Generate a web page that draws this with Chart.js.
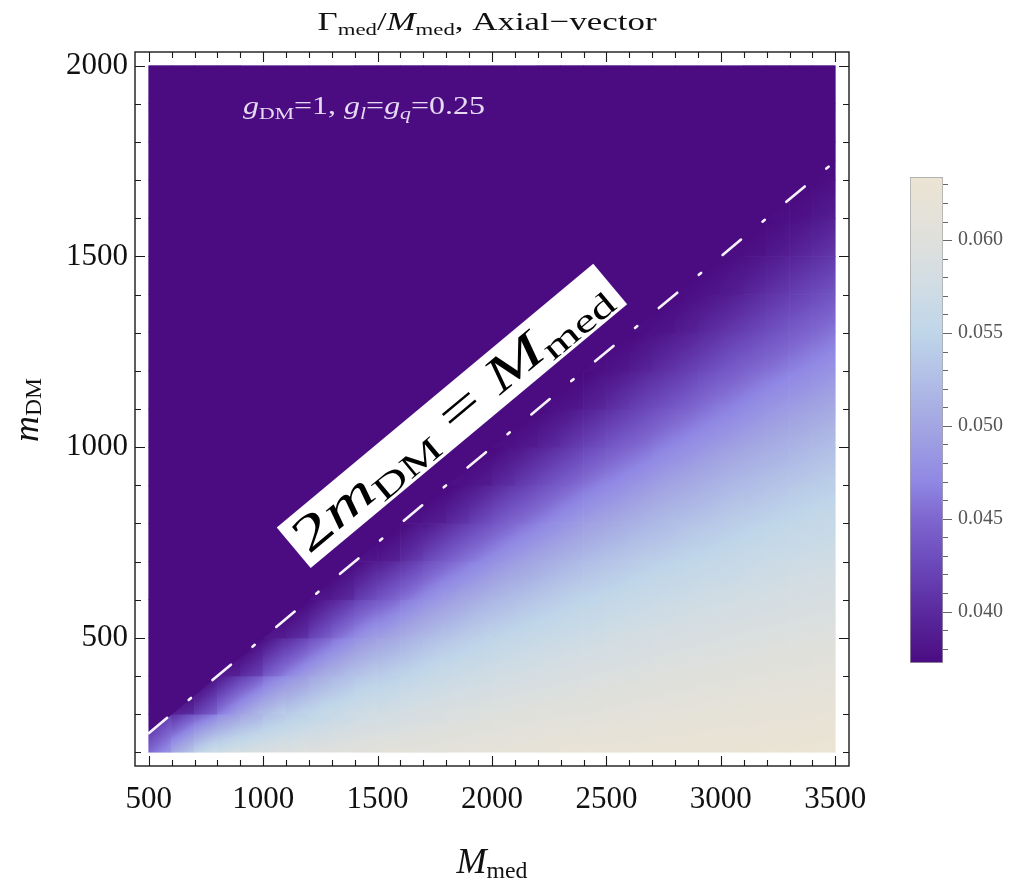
<!DOCTYPE html>
<html>
<head>
<meta charset="utf-8">
<script src="https://cdn.jsdelivr.net/npm/chart.js@4.4.1/dist/chart.umd.min.js"></script>
<style>
  html, body { margin: 0; padding: 0; background: #fff; }
  #wrap { position: relative; width: 1014px; height: 879px; }
  #main { position: absolute; left: 0; top: 0; }
  #cbar { position: absolute; left: 880px; top: 150px; }
</style>
</head>
<body>
<div id="wrap">
  <canvas id="main" width="1014" height="879"></canvas>
  <canvas id="cbar" width="134" height="540"></canvas>
</div>
<script>
/* ---------- data ---------- */
// cell centres: mediator mass (columns) and DM mass (rows, top to bottom)
const massMed = [550, 650, 750, 850, 950, 1050, 1150, 1250, 1350, 1450, 1550, 1650, 1750, 1850, 1950,
                 2050, 2150, 2250, 2350, 2450, 2550, 2650, 2750, 2850, 2950, 3050, 3150, 3250, 3350, 3450];
const massDM = [1950, 1850, 1750, 1650, 1550, 1450, 1350, 1250, 1150, 1050, 950, 850, 750, 650, 550, 450, 350, 250];
const cellSize = 100;

// Gamma_med / M_med per cell, in units of 1e-3
const widthRatio = [
  [37.2,37.2,37.2,37.2,37.2,37.2,37.2,37.2,37.2,37.2,37.2,37.2,37.2,37.2,37.2,37.2,37.2,37.2,37.2,37.2,37.2,37.2,37.2,37.2,37.2,37.2,37.2,37.2,37.2,37.2],
  [37.2,37.2,37.2,37.2,37.2,37.2,37.2,37.2,37.2,37.2,37.2,37.2,37.2,37.2,37.2,37.2,37.2,37.2,37.2,37.2,37.2,37.2,37.2,37.2,37.2,37.2,37.2,37.2,37.2,37.2],
  [37.2,37.2,37.2,37.2,37.2,37.2,37.2,37.2,37.2,37.2,37.2,37.2,37.2,37.2,37.2,37.2,37.2,37.2,37.2,37.2,37.2,37.2,37.2,37.2,37.2,37.2,37.2,37.2,37.2,37.2],
  [37.2,37.2,37.2,37.2,37.2,37.2,37.2,37.2,37.2,37.2,37.2,37.2,37.2,37.2,37.2,37.2,37.2,37.2,37.2,37.2,37.2,37.2,37.2,37.2,37.2,37.2,37.2,37.2,37.3,37.9],
  [37.2,37.2,37.2,37.2,37.2,37.2,37.2,37.2,37.2,37.2,37.2,37.2,37.2,37.2,37.2,37.2,37.2,37.2,37.2,37.2,37.2,37.2,37.2,37.2,37.2,37.2,37.3,37.9,38.7,39.7],
  [37.2,37.2,37.2,37.2,37.2,37.2,37.2,37.2,37.2,37.2,37.2,37.2,37.2,37.2,37.2,37.2,37.2,37.2,37.2,37.2,37.2,37.2,37.2,37.2,37.4,38.0,38.9,39.9,40.9,41.9],
  [37.2,37.2,37.2,37.2,37.2,37.2,37.2,37.2,37.2,37.2,37.2,37.2,37.2,37.2,37.2,37.2,37.2,37.2,37.2,37.2,37.2,37.2,37.4,38.1,39.1,40.1,41.2,42.3,43.3,44.3],
  [37.2,37.2,37.2,37.2,37.2,37.2,37.2,37.2,37.2,37.2,37.2,37.2,37.2,37.2,37.2,37.2,37.2,37.2,37.2,37.2,37.4,38.2,39.3,40.4,41.6,42.8,43.8,44.8,45.8,46.7],
  [37.2,37.2,37.2,37.2,37.2,37.2,37.2,37.2,37.2,37.2,37.2,37.2,37.2,37.2,37.2,37.2,37.2,37.2,37.4,38.3,39.5,40.8,42.0,43.2,44.5,45.5,46.5,47.4,48.2,49.0],
  [37.2,37.2,37.2,37.2,37.2,37.2,37.2,37.2,37.2,37.2,37.2,37.2,37.2,37.2,37.2,37.2,37.5,38.5,39.8,41.2,42.6,43.8,45.1,46.2,47.2,48.1,49.0,49.8,50.5,51.2],
  [37.2,37.2,37.2,37.2,37.2,37.2,37.2,37.2,37.2,37.2,37.2,37.2,37.2,37.2,37.5,38.7,40.2,41.7,43.2,44.7,45.9,47.0,48.1,49.0,49.9,50.7,51.4,52.0,52.6,53.2],
  [37.2,37.2,37.2,37.2,37.2,37.2,37.2,37.2,37.2,37.2,37.2,37.2,37.6,38.9,40.6,42.4,43.9,45.4,46.8,48.0,49.0,50.0,50.9,51.6,52.3,53.0,53.5,54.1,54.6,55.0],
  [37.2,37.2,37.2,37.2,37.2,37.2,37.2,37.2,37.2,37.2,37.6,39.3,41.2,43.1,44.8,46.4,47.8,49.0,50.1,51.1,51.9,52.7,53.3,54.0,54.5,55.0,55.5,55.9,56.3,56.6],
  [37.2,37.2,37.2,37.2,37.2,37.2,37.2,37.2,38.0,40.1,42.0,44.0,46.0,47.6,49.0,50.3,51.3,52.3,53.2,53.9,54.5,55.1,55.6,56.0,56.5,56.8,57.2,57.5,57.8,58.0],
  [37.2,37.2,37.2,37.2,37.2,37.2,38.1,40.7,43.3,45.7,47.3,49.0,50.5,51.7,52.8,53.6,54.4,55.1,55.7,56.2,56.8,57.2,57.5,57.8,58.1,58.4,58.6,58.8,59.0,59.2],
  [37.2,37.2,37.2,37.2,38.7,42.0,44.7,47.3,49.4,51.1,52.2,53.3,54.4,55.2,55.9,56.5,57.0,57.5,57.9,58.2,58.5,58.8,59.1,59.3,59.5,59.7,59.9,60.1,60.2,60.4],
  [37.2,37.2,39.8,43.8,47.0,49.8,51.5,53.2,54.5,55.6,56.1,56.9,57.5,58.0,58.4,58.8,59.1,59.4,59.6,59.9,60.1,60.3,60.5,60.7,60.9,61.0,61.2,61.3,61.4,61.6],
  [43.5,46.9,50.6,53.0,54.6,56.0,56.9,57.7,58.4,58.9,59.3,59.6,59.9,60.2,60.5,60.7,61.0,61.2,61.4,61.5,61.7,61.8,62.0,62.1,62.2,62.3,62.4,62.5,62.6,62.7]
];

// kinematic threshold 2 m_DM = M_med
const thresholdMed = [500, 3500];
const thresholdDM = [250, 1750];

const xTickValues = [500, 1000, 1500, 2000, 2500, 3000, 3500];
const yTickValues = [500, 1000, 1500, 2000];
const cbarTickValues = [40, 45, 50, 55, 60];
const cbarTickLabels = ['0.040', '0.045', '0.050', '0.055', '0.060'];
const cbarRange = [37.23, 63.4];

// colour map (value in 1e-3 -> colour)
const cmapValues = [37.2, 40.0, 42.5, 45.0, 47.0, 50.0, 52.5, 55.0, 57.5, 60.0, 63.4];
const cmapColors = ['#4b0c82', '#5a2a9e', '#6b48ba', '#7e66cf', '#9088e4', '#a3a6e2',
                    '#b1bee6', '#bfd6e9', '#d0dce4', '#dfe0dc', '#ece4d3'];

/* ---------- helpers ---------- */
const SERIF = "'Liberation Serif', 'Times New Roman', serif";
const DARK = cmapColors[0];

function hexRgb(h) { return [1, 3, 5].map(i => parseInt(h.slice(i, i + 2), 16)); }
function colorFor(v) {
  if (v <= cmapValues[0]) return cmapColors[0];
  for (let i = 1; i < cmapValues.length; i++) {
    if (v <= cmapValues[i]) {
      const t = (v - cmapValues[i - 1]) / (cmapValues[i] - cmapValues[i - 1]);
      const a = hexRgb(cmapColors[i - 1]), b = hexRgb(cmapColors[i]);
      return 'rgb(' + a.map((c, k) => Math.round(c + (b[k] - c) * t)).join(',') + ')';
    }
  }
  return cmapColors[cmapColors.length - 1];
}

// shade a cell like a smooth density plot: linear ramp along the local slope of the grid
function cellFill(c) {
  const r = c.datasetIndex, k = c.dataIndex;
  const row = widthRatio[r];
  const ch = c.chart;
  if (!row || !ch.chartArea) return row ? colorFor(row[k]) : DARK;
  const { x, y } = ch.scales;
  const wpx = Math.abs(x.getPixelForValue(cellSize) - x.getPixelForValue(0));
  const hpx = Math.abs(y.getPixelForValue(cellSize) - y.getPixelForValue(0));
  const v = row[k];
  const kl = Math.max(0, k - 1), kr = Math.min(row.length - 1, k + 1);
  const ru = Math.max(0, r - 1), rd = Math.min(widthRatio.length - 1, r + 1);
  const gx = (row[kr] - row[kl]) / ((kr - kl) * wpx);
  const gy = (widthRatio[rd][k] - widthRatio[ru][k]) / ((rd - ru) * hpx);
  const g = Math.hypot(gx, gy);
  if (g < 1e-6) return colorFor(v);
  const ux = gx / g, uy = gy / g;
  const L = (Math.abs(ux) * wpx + Math.abs(uy) * hpx) / 2;
  const cx = x.getPixelForValue(massMed[k]), cy = y.getPixelForValue(massDM[r]);
  const grad = ch.ctx.createLinearGradient(cx - ux * L, cy - uy * L, cx + ux * L, cy + uy * L);
  for (let i = 0; i <= 8; i++) {
    const t = i / 8;
    grad.addColorStop(t, colorFor(v + g * L * (2 * t - 1)));
  }
  return grad;
}

// draw a run of text pieces (subscripts, italics), optionally squeezed to a width
function drawRich(ctx, parts, x, y, align, targetW) {
  const fontOf = p => (p.it ? 'italic ' : '') + p.size + 'px ' + SERIF;
  let w = 0;
  const ws = parts.map(p => { ctx.font = fontOf(p); const m = ctx.measureText(p.t).width; w += m; return m; });
  const sx = targetW ? targetW / w : 1;
  ctx.save();
  ctx.translate(x, y);
  ctx.scale(sx, 1);
  ctx.textBaseline = 'alphabetic';
  ctx.textAlign = 'left';
  let cx = align === 'center' ? -w / 2 : 0;
  parts.forEach((p, i) => { ctx.font = fontOf(p); ctx.fillText(p.t, cx, p.dy || 0); cx += ws[i]; });
  ctx.restore();
}

/* ---------- decorations: frame, ticks, titles, label box ---------- */
const decorations = {
  id: 'decorations',
  afterDraw(chart) {
    const { ctx, chartArea: a, scales: { x, y } } = chart;
    ctx.save();

    // rotated threshold label
    const p1 = { x: x.getPixelForValue(thresholdMed[0]), y: y.getPixelForValue(thresholdDM[0]) };
    const p2 = { x: x.getPixelForValue(thresholdMed[1]), y: y.getPixelForValue(thresholdDM[1]) };
    const ang = Math.atan2(p2.y - p1.y, p2.x - p1.x);
    ctx.save();
    ctx.translate(x.getPixelForValue(1825), y.getPixelForValue(1082));
    ctx.rotate(ang);
    ctx.fillStyle = '#fff';
    ctx.fillRect(-206, -26.5, 412, 53);
    ctx.fillStyle = '#000';
    drawRich(ctx, [
      { t: '2', size: 50 }, { t: 'm', size: 50, it: true }, { t: 'DM', size: 33, dy: 8 },
      { t: ' = ', size: 50 }, { t: 'M', size: 50, it: true }, { t: 'med', size: 33, dy: 8 }
    ], -199, 15, 'left', 396);
    ctx.restore();

    // frame
    ctx.strokeStyle = '#1a1a1a';
    ctx.lineWidth = 1.4;
    ctx.strokeRect(a.left, a.top, a.right - a.left, a.bottom - a.top);

    // ticks, inward on all four sides
    ctx.lineWidth = 1.1;
    ctx.beginPath();
    for (let v = 500; v <= 3500; v += 100) {
      const px = Math.round(x.getPixelForValue(v)) + 0.5;
      const len = v % 500 === 0 ? 10 : 6;
      ctx.moveTo(px, a.bottom); ctx.lineTo(px, a.bottom - len);
      ctx.moveTo(px, a.top); ctx.lineTo(px, a.top + len);
    }
    for (let v = 200; v <= 2000; v += 100) {
      const py = Math.round(y.getPixelForValue(v)) + 0.5;
      const len = v % 500 === 0 ? 10 : 6;
      ctx.moveTo(a.left, py); ctx.lineTo(a.left + len, py);
      ctx.moveTo(a.right, py); ctx.lineTo(a.right - len, py);
    }
    ctx.stroke();

    // title
    ctx.fillStyle = '#111';
    drawRich(ctx, [
      { t: '\u0393', size: 26 }, { t: 'med', size: 17, dy: 5 }, { t: '/', size: 26 },
      { t: 'M', size: 26, it: true }, { t: 'med', size: 17, dy: 5 }, { t: ', Axial\u2212vector', size: 26 }
    ], 487, 30, 'center', 339);

    // axis labels
    drawRich(ctx, [{ t: 'M', size: 35, it: true }, { t: 'med', size: 23, dy: 5 }], 492, 873, 'center', 71);
    ctx.save();
    ctx.translate(38, 410);
    ctx.rotate(-Math.PI / 2);
    drawRich(ctx, [{ t: 'm', size: 35, it: true }, { t: 'DM', size: 23, dy: 3 }], 0, 0, 'center', 64);
    ctx.restore();

    // coupling annotation
    ctx.fillStyle = 'rgba(238,230,248,0.95)';
    drawRich(ctx, [
      { t: 'g', size: 25, it: true }, { t: 'DM', size: 17, dy: 5 }, { t: '=1, ', size: 25 },
      { t: 'g', size: 25, it: true }, { t: 'l', size: 17, it: true, dy: 5 }, { t: '=', size: 25 },
      { t: 'g', size: 25, it: true }, { t: 'q', size: 17, it: true, dy: 5 }, { t: '=0.25', size: 25 }
    ], 243, 114, 'left', 242);

    ctx.restore();
  }
};

/* ---------- main density plot ---------- */
const cellSets = massDM.map(m => ({
  type: 'bar',
  data: massMed.map(M => ({ x: M, y: [m - cellSize / 2, m + cellSize / 2] })),
  backgroundColor: cellFill,
  borderWidth: 0,
  grouped: false,
  barPercentage: 1,
  categoryPercentage: 1,
  order: 10
}));

const regionTop = massDM[0] + cellSize / 2;
const thresholdPts = thresholdMed.map((M, i) => ({ x: M, y: thresholdDM[i] }));

new Chart(document.getElementById('main'), {
  type: 'bar',
  data: {
    datasets: [
      ...cellSets,
      { type: 'line', data: thresholdMed.map(M => ({ x: M, y: regionTop })), borderColor: 'transparent',
        borderWidth: 1, pointRadius: 0, fill: false, order: 3 },
      { type: 'line', data: thresholdPts, borderColor: DARK, borderWidth: 1, pointRadius: 0,
        fill: '-1', backgroundColor: DARK, order: 2 },
      { type: 'line', data: thresholdPts, borderColor: 'rgba(255,255,255,0.95)', borderWidth: 2.6,
        borderDash: [24, 28, 3, 28], borderCapStyle: 'round', pointRadius: 0, fill: false, order: 1 }
    ]
  },
  options: {
    responsive: false, animation: false, events: [],
    layout: { padding: { top: 52, right: 165, left: 0, bottom: 0 } },
    plugins: { legend: { display: false }, tooltip: { enabled: false }, title: { display: false } },
    scales: {
      x: {
        type: 'linear', min: 440, max: 3560, offset: false,
        afterBuildTicks: s => { s.ticks = xTickValues.map(v => ({ value: v })); },
        afterFit: s => { s.height = 113; },
        ticks: { callback: v => String(v), font: { family: SERIF, size: 31 }, color: '#111', padding: 15, maxRotation: 0, autoSkip: false },
        grid: { display: false, drawTicks: false, offset: false },
        border: { display: false }
      },
      y: {
        type: 'linear', min: 164, max: 2036,
        afterBuildTicks: s => { s.ticks = yTickValues.map(v => ({ value: v })); },
        afterFit: s => { s.width = 135; },
        ticks: { callback: v => String(v), font: { family: SERIF, size: 31 }, color: '#111', padding: 7, autoSkip: false },
        grid: { display: false, drawTicks: false },
        border: { display: false }
      }
    }
  },
  plugins: [decorations]
});

/* ---------- colour bar ---------- */
const cbarTicks = {
  id: 'cbarTicks',
  afterDraw(chart) {
    const { ctx, chartArea: a, scales: { y } } = chart;
    ctx.save();
    ctx.beginPath();
    for (let v = 38; v <= 63; v++) {
      const py = Math.round(y.getPixelForValue(v)) + 0.5;
      const major = cbarTickValues.includes(v);
      ctx.moveTo(a.right, py); ctx.lineTo(a.right + (major ? 9 : 5), py);
    }
    ctx.strokeStyle = '#666';
    ctx.lineWidth = 1;
    ctx.stroke();
    ctx.restore();
  }
};

new Chart(document.getElementById('cbar'), {
  type: 'bar',
  data: {
    labels: [''],
    datasets: [{
      data: [cbarRange],
      backgroundColor: c => {
        const ch = c.chart;
        if (!ch.chartArea) return DARK;
        const y = ch.scales.y;
        const g = ch.ctx.createLinearGradient(0, y.getPixelForValue(cbarRange[0]), 0, y.getPixelForValue(cbarRange[1]));
        cmapValues.forEach((v, i) => {
          const t = Math.min(1, Math.max(0, (v - cbarRange[0]) / (cbarRange[1] - cbarRange[0])));
          g.addColorStop(t, cmapColors[i]);
        });
        return g;
      },
      borderColor: '#a3a3a3', borderWidth: 1, borderSkipped: false,
      barPercentage: 1, categoryPercentage: 1
    }]
  },
  options: {
    responsive: false, animation: false, events: [],
    layout: { padding: { top: 24, bottom: 25, left: 30, right: 0 } },
    plugins: { legend: { display: false }, tooltip: { enabled: false } },
    scales: {
      x: { display: false },
      y: {
        position: 'right', min: cbarRange[0], max: cbarRange[1],
        afterBuildTicks: s => { s.ticks = cbarTickValues.map(v => ({ value: v })); },
        afterFit: s => { s.width = 71; },
        ticks: { callback: (v, i) => cbarTickLabels[i], padding: 15, color: '#555', font: { family: SERIF, size: 20 } },
        grid: { display: false, drawTicks: false },
        border: { display: false }
      }
    }
  },
  plugins: [cbarTicks]
});
</script>
</body>
</html>
